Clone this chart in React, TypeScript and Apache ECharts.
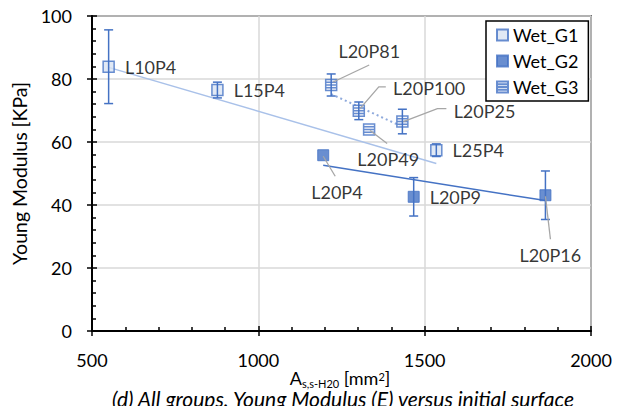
import React, { useEffect, useRef } from 'react';
import * as echarts from 'echarts';

// ---- data ----
const g1Names = ['L10P4', 'L15P4', 'L25P4'];
const g1X = [550, 877, 1535];
const g1Y = [83.9, 76.5, 57.4];
const g1Err = [11.7, 2.5, 2.0];

const g2Names = ['L20P4', 'L20P9', 'L20P16'];
const g2X = [1195, 1467, 1863];
const g2Y = [55.8, 42.6, 43.1];
const g2Err = [0, 6.1, 7.7];

const g3Names = ['L20P81', 'L20P100', 'L20P49', 'L20P25'];
const g3X = [1219, 1302, 1333, 1433];
const g3Y = [78.1, 69.9, 64.0, 66.5];
const g3Err = [3.5, 2.8, 0, 3.9];

const g1TrendX = [550, 1535];
const g1TrendY = [83.7, 53.2];
const g2TrendX = [1195, 1863];
const g2TrendY = [52.6, 41.4];
const g3TrendX = [1219, 1428];
const g3TrendY = [75.2, 65.1];

const xMin = 500, xMax = 2000, xStep = 500;
const yMin = 0, yMax = 100, yStep = 20;

// x-axis title pieces: text and role (main / sub / sup)
const xTitleParts: [string, string][] = [['A', 'main'], ['s,s-H20', 'sub'], [' [mm', 'main'], ['2', 'sup'], [']', 'main']];

// ---- layout (label shifts and leader lines, in px relative to the marker) ----
const g1Shift = [[0, 0], [0, 0], [0, 0]];
const g2Shift = [[-28, 37], [0, 0], [-42, 60]];
const g3Shift = [[-9, -34], [18, -23], [-28, 30], [35, -11]];
const g1Leader: number[][][] = [[], [], []];
const g2Leader: number[][][] = [[[0, 1], [12, 21]], [], [[0, 1], [5, 44]]];
const g3Leader: number[][][] = [
  [[2, -3], [38, -20]],
  [[1, -2], [20, -24], [27, -24]],
  [[1, 1], [18, 14]],
  [[1, 0], [35, -13], [44, -13]],
];

const BLUE = '#4472C4';
const FONT = 'Lato';
const G3_SYMBOL = 'path://M0,0H10V10H0Z M0,2.5H10 M0,5H10 M0,7.5H10';

function App() {
  const ref = useRef<HTMLDivElement>(null);
  useEffect(() => {
    const chart = echarts.init(ref.current!, null, { renderer: 'svg' });

    const pts = (xs: number[], ys: number[]) => xs.map((x, i) => [x, ys[i]]);
    const errData = (xs: number[], ys: number[], es: number[]) => xs.map((x, i) => [x, ys[i], es[i]]);

    // x-axis title built from measured pieces
    const partStyle: Record<string, { size: number; cy: number }> = {
      main: { size: 18, cy: 378 },
      sub: { size: 11, cy: 383.5 },
      sup: { size: 11, cy: 376 },
    };
    const ctx = document.createElement('canvas').getContext('2d')!;
    const widths = xTitleParts.map(([t, role]) => {
      ctx.font = `${partStyle[role].size}px ${FONT}`;
      return ctx.measureText(t).width;
    });
    const total = widths.reduce((a, b) => a + b, 0);
    let cursor = 340 - total / 2;
    const titleTexts = xTitleParts.map(([t, role], i) => {
      const el = {
        type: 'text',
        x: cursor,
        y: partStyle[role].cy,
        style: {
          text: t,
          fontFamily: FONT,
          fontSize: partStyle[role].size,
          fill: '#000',
          align: 'left',
          verticalAlign: 'middle',
        },
      };
      cursor += widths[i];
      return el;
    });

    const label = (names: string[]) => ({
      show: true,
      position: 'right',
      distance: 10,
      fontFamily: FONT,
      fontSize: 18,
      color: '#000',
      formatter: (p: any) => names[p.dataIndex],
    });
    const layout = (shift: number[][]) => (p: any) => ({ dx: shift[p.dataIndex][0], dy: shift[p.dataIndex][1] });

    const errSeries = (name: string, data: number[][]) => ({
      type: 'custom',
      name,
      z: 4,
      encode: { x: 0, y: 1 },
      data,
      renderItem: (params: any, api: any) => {
        const x = api.value(0), y = api.value(1), e = api.value(2);
        if (!e) return { type: 'group', children: [] };
        const t = api.coord([x, y + e]);
        const b = api.coord([x, y - e]);
        const w = 4.5;
        const style = { stroke: BLUE, lineWidth: 1.5, fill: null };
        return {
          type: 'group',
          children: [
            { type: 'line', shape: { x1: t[0], y1: t[1], x2: b[0], y2: b[1] }, style },
            { type: 'line', shape: { x1: t[0] - w, y1: t[1], x2: t[0] + w, y2: t[1] }, style },
            { type: 'line', shape: { x1: b[0] - w, y1: b[1], x2: b[0] + w, y2: b[1] }, style },
          ],
        };
      },
    });

    const leaderSeries = (name: string, data: number[][], leader: number[][][]) => ({
      type: 'custom',
      name,
      z: 5,
      encode: { x: 0, y: 1 },
      data,
      renderItem: (params: any, api: any) => {
        const segs = leader[params.dataIndex];
        if (!segs || segs.length < 2) return { type: 'group', children: [] };
        const c = api.coord([api.value(0), api.value(1)]);
        return {
          type: 'polyline',
          shape: { points: segs.map((s) => [c[0] + s[0], c[1] + s[1]]) },
          style: { stroke: '#A6A6A6', lineWidth: 1.3, fill: null },
        };
      },
    });

    const axisCommonX = { type: 'value', min: xMin, max: xMax, interval: xStep };
    const axisCommonY = { type: 'value', min: yMin, max: yMax, interval: yStep };

    chart.setOption({
      animation: false,
      grid: {
        left: 92, right: 32, top: 16, bottom: 75,
        show: true, borderColor: '#000', borderWidth: 1.5, backgroundColor: 'transparent',
        outerBoundsMode: 'none',
      },
      xAxis: [
        {
          ...axisCommonX,
          position: 'bottom',
          axisLine: { lineStyle: { color: '#000', width: 2 } },
          axisTick: { show: true, inside: true, length: 5, lineStyle: { color: '#000', width: 1.5 } },
          minorTick: { show: true, splitNumber: 5, length: 4, lineStyle: { color: '#000', width: 1.5 } },
          splitLine: { show: true, lineStyle: { color: '#D9D9D9', width: 1.5 } },
          axisLabel: {
            fontFamily: FONT, fontSize: 18, color: '#000', margin: 20,
            showMinLabel: true, showMaxLabel: true,
            formatter: (v: number) => String(v),
          },
        },
        {
          ...axisCommonX,
          position: 'bottom',
          axisLine: { show: false },
          axisTick: { show: true, inside: false, length: 5, lineStyle: { color: '#000', width: 1.5 } },
          axisLabel: { show: false },
          splitLine: { show: false },
        },
      ],
      yAxis: [
        {
          ...axisCommonY,
          position: 'left',
          axisLine: { show: true, lineStyle: { color: '#000', width: 2 } },
          axisTick: { show: true, inside: true, length: 5, lineStyle: { color: '#000', width: 1.5 } },
          minorTick: { show: true, splitNumber: 5, length: 4, lineStyle: { color: '#000', width: 1.5 } },
          splitLine: { show: true, lineStyle: { color: '#D9D9D9', width: 1.5 } },
          axisLabel: { fontFamily: FONT, fontSize: 18, color: '#000', margin: 20 },
          name: 'Young Modulus [KPa]',
          nameLocation: 'middle',
          nameGap: 54,
          nameTextStyle: { fontFamily: FONT, fontSize: 19.5, color: '#000' },
        },
        {
          ...axisCommonY,
          position: 'left',
          axisLine: { show: false },
          axisTick: { show: true, inside: false, length: 5, lineStyle: { color: '#000', width: 1.5 } },
          axisLabel: { show: false },
          splitLine: { show: false },
        },
      ],
      legend: {
        data: ['Wet_G1', 'Wet_G2', 'Wet_G3'],
        orient: 'vertical',
        left: 486,
        top: 21,
        padding: [5, 10, 5, 10],
        itemGap: 8,
        itemWidth: 11,
        itemHeight: 11,
        borderColor: '#000',
        borderWidth: 1.5,
        backgroundColor: '#fff',
        textStyle: { fontFamily: FONT, fontSize: 18, color: '#000', lineHeight: 17 },
      },
      graphic: [
        ...titleTexts,
        {
          type: 'text',
          x: 343,
          y: 388,
          style: {
            text: '(d) All groups. Young Modulus (E) versus initial surface',
            fontFamily: FONT,
            fontStyle: 'italic',
            fontSize: 21,
            fill: '#000',
            align: 'center',
            verticalAlign: 'top',
          },
        },
      ],
      series: [
        {
          type: 'line', name: 'trend1', data: pts(g1TrendX, g1TrendY), symbol: 'none', z: 2,
          lineStyle: { color: '#A9C1E9', width: 1.5 },
        },
        {
          type: 'line', name: 'trend2', data: pts(g2TrendX, g2TrendY), symbol: 'none', z: 2,
          lineStyle: { color: BLUE, width: 1.5 },
        },
        {
          type: 'line', name: 'trend3', data: pts(g3TrendX, g3TrendY), symbol: 'none', z: 2,
          lineStyle: { color: '#8FAADC', width: 2, type: [2, 3] },
        },
        {
          type: 'scatter', name: 'Wet_G1', z: 3,
          data: pts(g1X, g1Y),
          symbol: 'rect', symbolSize: 11,
          itemStyle: { color: '#DAE3F3', borderColor: BLUE, borderWidth: 1.5 },
          label: label(g1Names),
          labelLayout: layout(g1Shift),
        },
        {
          type: 'scatter', name: 'Wet_G2', z: 3,
          data: pts(g2X, g2Y),
          symbol: 'rect', symbolSize: 11,
          itemStyle: { color: BLUE, borderColor: BLUE, borderWidth: 1 },
          label: label(g2Names),
          labelLayout: layout(g2Shift),
        },
        {
          type: 'scatter', name: 'Wet_G3', z: 3,
          data: pts(g3X, g3Y),
          symbol: G3_SYMBOL, symbolSize: 11,
          itemStyle: { color: '#F2F5FB', borderColor: BLUE, borderWidth: 1.5 },
          label: label(g3Names),
          labelLayout: layout(g3Shift),
        },
        errSeries('err1', errData(g1X, g1Y, g1Err)),
        errSeries('err2', errData(g2X, g2Y, g2Err)),
        errSeries('err3', errData(g3X, g3Y, g3Err)),
        leaderSeries('lead1', pts(g1X, g1Y), g1Leader),
        leaderSeries('lead2', pts(g2X, g2Y), g2Leader),
        leaderSeries('lead3', pts(g3X, g3Y), g3Leader),
      ],
    });
    return () => chart.dispose();
  }, []);
  return <div ref={ref} style={{ position: 'fixed', left: 0, top: 0, width: 623, height: 406, background: '#fff' }} />;
}

export default App;
